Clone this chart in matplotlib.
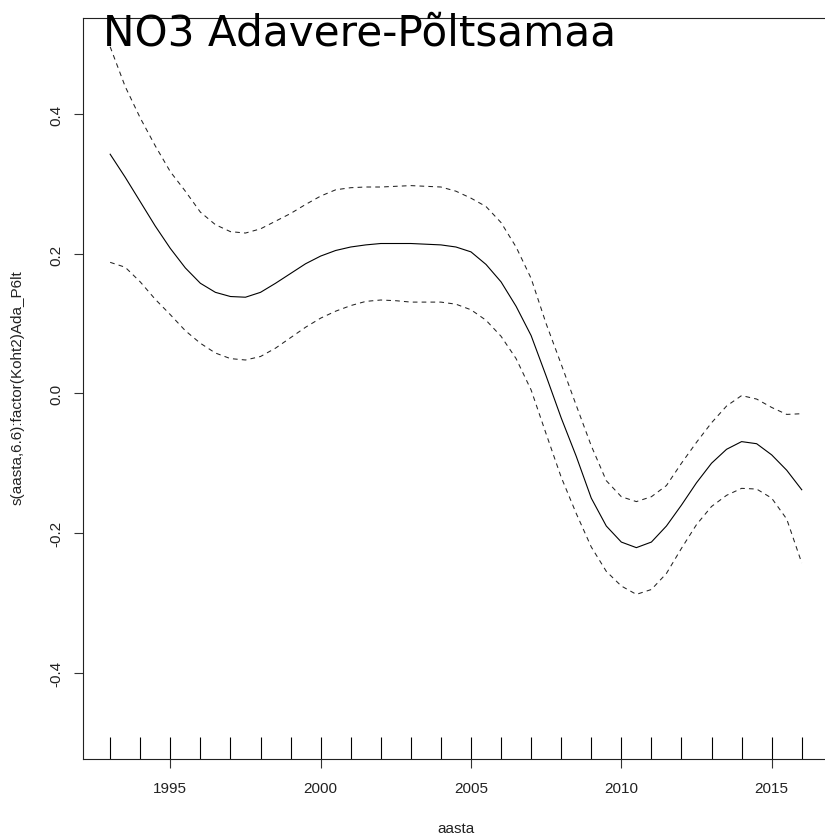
import numpy as np
from matplotlib import pyplot as plt

# =============================================================================
# data
# =============================================================================

years = [1993.0, 1993.5, 1994.0, 1994.5, 1995.0, 1995.5, 1996.0, 1996.5,
         1997.0, 1997.5, 1998.0, 1998.5, 1999.0, 1999.5, 2000.0, 2000.5,
         2001.0, 2001.5, 2002.0, 2002.5, 2003.0, 2003.5, 2004.0, 2004.5,
         2005.0, 2005.5, 2006.0, 2006.5, 2007.0, 2007.5, 2008.0, 2008.5,
         2009.0, 2009.5, 2010.0, 2010.5, 2011.0, 2011.5, 2012.0, 2012.5,
         2013.0, 2013.5, 2014.0, 2014.5, 2015.0, 2015.5, 2016.0]

fit = [0.343, 0.310, 0.275, 0.240, 0.208, 0.180, 0.158, 0.145,
       0.139, 0.138, 0.145, 0.158, 0.172, 0.186, 0.197, 0.205,
       0.210, 0.213, 0.215, 0.215, 0.215, 0.214, 0.213, 0.210,
       0.203, 0.185, 0.160, 0.125, 0.083, 0.025, -0.035, -0.090,
       -0.150, -0.190, -0.213, -0.221, -0.213, -0.190, -0.160, -0.128,
       -0.100, -0.080, -0.069, -0.072, -0.088, -0.110, -0.138]

upper = [0.497, 0.440, 0.395, 0.355, 0.318, 0.290, 0.260, 0.242,
         0.232, 0.230, 0.236, 0.247, 0.258, 0.271, 0.283, 0.292,
         0.295, 0.296, 0.296, 0.297, 0.298, 0.297, 0.296, 0.290,
         0.280, 0.268, 0.245, 0.210, 0.165, 0.100, 0.042, -0.017,
         -0.075, -0.125, -0.148, -0.155, -0.148, -0.132, -0.100, -0.070,
         -0.042, -0.018, -0.003, -0.008, -0.020, -0.030, -0.029]

lower = [0.188, 0.181, 0.160, 0.135, 0.113, 0.090, 0.072, 0.058,
         0.050, 0.048, 0.053, 0.065, 0.080, 0.095, 0.108, 0.118,
         0.126, 0.132, 0.134, 0.133, 0.131, 0.131, 0.131, 0.128,
         0.120, 0.105, 0.082, 0.050, 0.005, -0.058, -0.120, -0.172,
         -0.220, -0.255, -0.276, -0.288, -0.281, -0.258, -0.222, -0.188,
         -0.162, -0.146, -0.136, -0.137, -0.150, -0.180, -0.243]

rug_years = [1993, 1994, 1995, 1996, 1997, 1998, 1999, 2000, 2001, 2002,
             2003, 2004, 2005, 2006, 2007, 2008, 2009, 2010, 2011, 2012,
             2013, 2014, 2015, 2016]

x_ticks = [1995, 2000, 2005, 2010, 2015]
y_ticks = [-0.4, -0.2, 0.0, 0.2, 0.4]
y_tick_labels = ["-0.4", "-0.2", "0.0", "0.2", "0.4"]

title = "NO3 Adavere-Põltsamaa"
x_label = "aasta"
y_label = "s(aasta,6.6):factor(Koht2)Ada_P6lt"

# =============================================================================
# plot
# =============================================================================

W, H = 825, 837
plt.rcParams['font.family'] = ['Liberation Sans', 'DejaVu Sans']

fig = plt.figure(figsize=(W / 100, H / 100), dpi=100)
ax = fig.add_axes([82.5 / W, (H - 760) / H, (829.4 - 82.5) / W, (760 - 18.5) / H])

ax.plot(years, fit, color='black', lw=0.8)
ax.plot(years, upper, color='#222222', lw=0.75, dashes=(4.5, 4))
ax.plot(years, lower, color='#222222', lw=0.75, dashes=(4.5, 4))

# rug
ax.vlines(rug_years, 0, 0.03, transform=ax.get_xaxis_transform(),
          color='black', lw=0.8)

ax.set_xlim(1992.08, 2016.92)
ax.set_ylim(-0.524, 0.539)

ax.set_xticks(x_ticks)
ax.set_xticklabels([str(v) for v in x_ticks])
ax.set_yticks(y_ticks)
ax.set_yticklabels(y_tick_labels, rotation=90, va='center')

ax.tick_params(axis='both', direction='out', length=6.5, width=0.8,
               labelsize=11, labelcolor='#222222', color='#333333')
ax.tick_params(axis='x', pad=9)
ax.tick_params(axis='y', pad=7)

for sp in ax.spines.values():
    sp.set_linewidth(0.8)
    sp.set_color('#222222')

fig.text(455.5 / W, 1 - 833 / H, x_label, ha='center', va='baseline',
         fontsize=11, color='#222222')
fig.text(18 / W, 1 - 387.5 / H, y_label, ha='center', va='center',
         rotation=90, fontsize=11, color='#222222')

fig.text(103 / W, 1 - 46 / H, title, ha='left', va='baseline',
         fontsize=30.3, family='DejaVu Sans', color='black')

fig.savefig('out.png', dpi=100)
